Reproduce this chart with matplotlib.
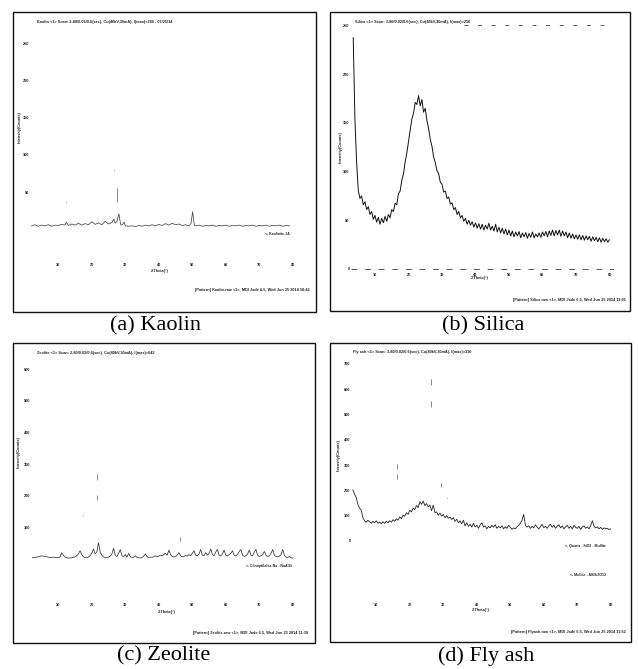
import numpy as np
import matplotlib
matplotlib.use("Agg")
import matplotlib.pyplot as plt
from matplotlib.patches import Rectangle

# ---------------- data (intensity in tick units) ----------------
captions = ["(a) Kaolin", "(b) Silica", "(c) Zeolite", "(d) Fly ash"]
two_theta_ticks = [10, 20, 30, 40, 50, 60, 70, 80]

kaolin_2theta = [2, 3, 4, 5, 6, 7, 8, 9, 10, 11, 12, 12.4, 13, 14, 15, 16, 17, 18, 19, 20,
                 21, 22, 23, 24, 25, 26, 26.6, 27, 27.5, 28.1, 28.6, 29, 29.7, 30, 31, 32,
                 33, 34, 35, 36, 37, 38, 39, 40, 41, 42, 43, 44, 45, 46, 47, 48, 49, 49.6,
                 50.1, 50.6, 51, 52, 53, 54, 55, 56, 57, 58, 59, 60, 61, 62, 63, 64, 65, 66,
                 67, 68, 69, 70, 71, 72, 73, 74, 75, 76, 77, 78, 79]
kaolin_counts = [0.10, 0.13, 0.09, 0.12, 0.10, 0.13, 0.09, 0.12, 0.11, 0.14, 0.12, 0.20, 0.11,
                 0.15, 0.12, 0.17, 0.12, 0.16, 0.13, 0.21, 0.14, 0.18, 0.13, 0.22, 0.15, 0.19,
                 0.28, 0.17, 0.22, 0.42, 0.14, 0.12, 0.20, 0.10, 0.09, 0.10, 0.08, 0.11, 0.09,
                 0.12, 0.10, 0.13, 0.10, 0.14, 0.11, 0.16, 0.12, 0.17, 0.13, 0.15, 0.11, 0.13,
                 0.10, 0.16, 0.48, 0.12, 0.10, 0.12, 0.09, 0.11, 0.10, 0.12, 0.09, 0.11, 0.10,
                 0.12, 0.09, 0.11, 0.10, 0.12, 0.09, 0.11, 0.10, 0.12, 0.09, 0.11, 0.10, 0.12,
                 0.09, 0.11, 0.10, 0.12, 0.09, 0.11, 0.10]
kaolin_faint_x = [27.4]
kaolin_faint_lo = [0.74]
kaolin_faint_hi = [1.11]
kaolin_dot_x = [26.6, 12.2]
kaolin_dot_y = [1.60, 0.75]

silica_2theta = np.arange(3.5, 80.01, 0.5)
silica_counts = [4.75, 3.10, 2.20, 1.62, 1.45, 1.50, 1.32, 1.38, 1.22, 1.28,
                 1.12, 1.18, 1.02, 1.10, 0.96, 1.06, 0.92, 1.04, 0.95, 1.08,
                 0.98, 1.12, 1.05, 1.22, 1.18, 1.35, 1.32, 1.55, 1.60, 1.82,
                 1.95, 2.20, 2.38, 2.62, 2.85, 3.08, 3.20, 3.42, 3.38, 3.56,
                 3.35, 3.48, 3.22, 3.30, 3.05, 2.88, 2.66, 2.52, 2.30, 2.18,
                 2.02, 1.96, 1.78, 1.74, 1.58, 1.60, 1.45, 1.48, 1.33, 1.36,
                 1.22, 1.26, 1.12, 1.18, 1.05, 1.10, 0.98, 1.04, 0.92, 1.00,
                 0.90, 0.97, 0.86, 0.95, 0.84, 0.93, 0.82, 0.92, 0.80, 0.90,
                 0.82, 0.94, 0.80, 0.88, 0.78, 0.92, 0.76, 0.86, 0.74, 0.84,
                 0.72, 0.82, 0.70, 0.80, 0.68, 0.78, 0.66, 0.76, 0.68, 0.77,
                 0.64, 0.74, 0.66, 0.75, 0.63, 0.73, 0.65, 0.76, 0.64, 0.72,
                 0.66, 0.74, 0.65, 0.76, 0.68, 0.77, 0.66, 0.78, 0.69, 0.80,
                 0.68, 0.79, 0.70, 0.80, 0.67, 0.78, 0.68, 0.76, 0.64, 0.74,
                 0.63, 0.72, 0.62, 0.70, 0.61, 0.70, 0.60, 0.69, 0.59, 0.68,
                 0.60, 0.67, 0.57, 0.66, 0.58, 0.65, 0.56, 0.64, 0.55, 0.63,
                 0.56, 0.62, 0.55, 0.60]

zeolite_2theta = np.arange(2.0, 80.01, 0.5)
zeolite_counts = [0.04, 0.05, 0.05, 0.06, 0.07, 0.08, 0.10, 0.09, 0.08, 0.07, 0.06, 0.05,
                  0.05, 0.06, 0.05, 0.04, 0.05, 0.06,
                  0.20, 0.12, 0.06, 0.04, 0.03, 0.03, 0.04, 0.05, 0.07, 0.10, 0.16, 0.26,
                  0.14, 0.07, 0.04, 0.04, 0.06, 0.10, 0.18, 0.32,
                  0.16, 0.22, 0.52, 0.22, 0.12, 0.07, 0.05, 0.05, 0.06, 0.09, 0.16, 0.34,
                  0.12, 0.08, 0.18, 0.30, 0.10, 0.08, 0.14, 0.06,
                  0.18, 0.07, 0.05, 0.06, 0.10, 0.05, 0.04, 0.03, 0.05, 0.09,
                  0.16, 0.07, 0.05, 0.06, 0.05, 0.08, 0.10, 0.07, 0.09, 0.12,
                  0.10, 0.14, 0.18, 0.12, 0.28, 0.14, 0.08, 0.06, 0.08, 0.12,
                  0.20, 0.10, 0.07, 0.08, 0.12, 0.09, 0.14, 0.10, 0.18, 0.26,
                  0.12, 0.10, 0.16, 0.30, 0.12, 0.10, 0.20, 0.12, 0.18, 0.32,
                  0.14, 0.10, 0.22, 0.30, 0.12, 0.10, 0.16, 0.28, 0.12, 0.10,
                  0.14, 0.18, 0.26, 0.12, 0.10, 0.14, 0.24, 0.30, 0.12, 0.08,
                  0.10, 0.16, 0.28, 0.12, 0.10, 0.22, 0.30, 0.12, 0.08, 0.10,
                  0.14, 0.24, 0.12, 0.08, 0.10, 0.18, 0.30, 0.12, 0.08, 0.07,
                  0.09, 0.14, 0.30, 0.12, 0.06, 0.05, 0.08, 0.04, 0.03]
zeolite_faint_x = [21.5, 21.5, 46.3]
zeolite_faint_lo = [2.50, 1.87, 0.58]
zeolite_faint_hi = [2.68, 2.02, 0.70]
zeolite_dot_x = [17.3]
zeolite_dot_y = [1.39]

flyash_2theta = np.arange(3.0, 80.01, 0.5)
flyash_counts = [2.02, 1.85, 1.72, 1.45, 1.30, 1.22, 0.92, 0.80, 0.74, 0.82,
                 0.76, 0.70, 0.78, 0.72, 0.80, 0.70, 0.75, 0.68, 0.76, 0.70,
                 0.78, 0.72, 0.80, 0.74, 0.84, 0.78, 0.88, 0.82, 0.95, 0.88,
                 1.02, 0.98, 1.12, 1.05, 1.22, 1.15, 1.30, 1.24, 1.40, 1.32,
                 1.55, 1.45, 1.58, 1.40, 1.48, 1.35, 1.42, 1.20, 1.42, 1.12,
                 1.15, 1.02, 1.10, 0.98, 1.05, 0.92, 1.00, 0.90, 0.95, 0.85,
                 0.92, 0.78, 0.86, 0.72, 0.80, 0.68, 0.82, 0.60, 0.72, 0.58,
                 0.66, 0.55, 0.70, 0.56, 0.62, 0.50, 0.64, 0.72, 0.55, 0.60,
                 0.48, 0.58, 0.52, 0.62, 0.55, 0.64, 0.50, 0.58, 0.52, 0.60,
                 0.48, 0.56, 0.50, 0.62, 0.54, 0.46, 0.52, 0.48, 0.56, 0.62,
                 0.70, 0.82, 1.05, 0.62, 0.55, 0.60, 0.50, 0.58, 0.52, 0.64,
                 0.55, 0.48, 0.56, 0.66, 0.52, 0.58, 0.50, 0.60, 0.66, 0.54,
                 0.62, 0.50, 0.58, 0.64, 0.52, 0.60, 0.48, 0.56, 0.62, 0.50,
                 0.58, 0.48, 0.62, 0.54, 0.50, 0.58, 0.46, 0.55, 0.60, 0.50,
                 0.56, 0.48, 0.62, 0.80, 0.58, 0.52, 0.56, 0.48, 0.54, 0.46,
                 0.52, 0.48, 0.50, 0.45, 0.48]
flyash_faint_x = [26.2, 26.2, 16.1, 16.1, 29.3]
flyash_faint_lo = [6.15, 5.30, 2.85, 2.45, 2.12]
flyash_faint_hi = [6.40, 5.55, 3.05, 2.65, 2.30]
flyash_dot_x = [31.0]
flyash_dot_y = [1.69]

kaolin_ytick_labels = ["50", "100", "150", "200", "250"]
silica_ytick_labels = ["0", "50", "100", "150", "200", "250"]
zeolite_ytick_labels = ["100", "200", "300", "400", "500", "600"]
flyash_ytick_labels = ["0", "100", "200", "300", "400", "500", "600", "700"]

headers = ["Kaolin <1> Scan: 2-80/0.02/0.6(sec), Cu(40kV,30mA), I(max)=286 - 06/25/14",
           "Silica <1> Scan: 3-80/0.02/0.6(sec), Cu(40kV,30mA), I(max)=256",
           "Zeolite <1> Scan: 2-80/0.02/0.6(sec), Cu(40kV,30mA), I(max)=642",
           "Fly ash <1> Scan: 3-80/0.02/0.6(sec), Cu(40kV,30mA), I(max)=330"]
footers = ["[Pattern] Kaolin.raw <1>, MDI Jade 6.5, Wed Jun 25 2014 10:42",
           "[Pattern] Silica.raw <1>, MDI Jade 6.5, Wed Jun 25 2014 11:05",
           "[Pattern] Zeolite.raw <1>, MDI Jade 6.5, Wed Jun 25 2014 11:30",
           "[Pattern] Flyash.raw <1>, MDI Jade 6.5, Wed Jun 25 2014 11:52"]

# ---------------- figure ----------------
W, H = 638, 669
fig = plt.figure(figsize=(W / 100, H / 100), dpi=100)
fig.patch.set_facecolor("white")

SERIF = ["Liberation Serif", "DejaVu Serif"]
SANS = ["Liberation Sans", "DejaVu Sans"]


def fx(px):
    return px / W


def fy(py):
    return 1 - py / H


def px_axes(l, t, r, b):
    return fig.add_axes([fx(l), fy(b), (r - l) / W, (b - t) / H])


def box(l, t, r, b):
    fig.add_artist(Rectangle((fx(l), fy(b)), (r - l) / W, (b - t) / H,
                             transform=fig.transFigure, fill=False,
                             lw=1.0, ec="#111111"))


def tiny(px, py, s, ha="left", rot=0, size=2.8, color="#222222"):
    fig.text(fx(px), fy(py), s, ha=ha, va="center", rotation=rot,
             fontsize=size, color=color, family=SANS, fontweight="bold")


panels = [
    dict(box=(13, 12, 316, 312), ax=(31, 20, 297, 262), x0=24.8, y0=229.6, ypx=37.3,
         x=kaolin_2theta, y=kaolin_counts, yt=kaolin_ytick_labels, yt_start=1,
         fx_=kaolin_faint_x, flo=kaolin_faint_lo, fhi=kaolin_faint_hi,
         dx=kaolin_dot_x, dy=kaolin_dot_y, lc="#444444", lw=0.55,
         head=(37, 22), foot=(310, 290), ylab=(20, 127), xlab=(160, 271),
         cap=(155, 326), plabels=[("<- Kaolinite-1A", 290, 234)]),
    dict(box=(330, 12, 630, 311), ax=(351, 22, 614, 272), x0=341.5, y0=269.0, ypx=48.7,
         x=silica_2theta, y=silica_counts, yt=silica_ytick_labels, yt_start=0,
         fx_=[], flo=[], fhi=[], dx=[], dy=[], lc="#111111", lw=0.7,
         head=(355, 22), foot=(626, 300), ylab=(341, 147), xlab=(480, 278),
         cap=(483, 326), plabels=[]),
    dict(box=(13, 343, 315, 643), ax=(32, 352, 297, 602), x0=24.8, y0=559.0, ypx=31.6,
         x=zeolite_2theta, y=zeolite_counts, yt=zeolite_ytick_labels, yt_start=1,
         fx_=zeolite_faint_x, flo=zeolite_faint_lo, fhi=zeolite_faint_hi,
         dx=zeolite_dot_x, dy=zeolite_dot_y, lc="#333333", lw=0.55,
         head=(37, 353), foot=(308, 633), ylab=(19, 452), xlab=(167, 612),
         cap=(164, 656), plabels=[("<- Clinoptilolite-Na - NaAlSi", 292, 566)]),
    dict(box=(330, 343, 631, 642), ax=(352, 352, 614, 602), x0=342.8, y0=541.0, ypx=25.3,
         x=flyash_2theta, y=flyash_counts, yt=flyash_ytick_labels, yt_start=0,
         fx_=flyash_faint_x, flo=flyash_faint_lo, fhi=flyash_faint_hi,
         dx=flyash_dot_x, dy=flyash_dot_y, lc="#222222", lw=0.6,
         head=(353, 352), foot=(626, 632), ylab=(339, 455), xlab=(481, 610),
         cap=(486, 656), plabels=[("<- Quartz - SiO2 - Mullite", 606, 546),
                                  ("<- Mullite - Al6Si2O13", 606, 575)]),
]

for i, p in enumerate(panels):
    box(*p["box"])
    l, t, r, b = p["ax"]
    ax = px_axes(l, t, r, b)
    ax.set_xlim((l - p["x0"]) / 3.35, (r - p["x0"]) / 3.35)
    ax.set_ylim((p["y0"] - b) / p["ypx"], (p["y0"] - t) / p["ypx"])
    for s in ax.spines.values():
        s.set_visible(False)
    ax.patch.set_alpha(0)

    ax.plot(p["x"], p["y"], color=p["lc"], lw=p["lw"])
    if p["fx_"]:
        ax.vlines(p["fx_"], p["flo"], p["fhi"], colors="#777777", lw=0.6)
    if p["dx"]:
        ax.scatter(p["dx"], p["dy"], s=0.6, color="#999999", lw=0)

    ax.set_xticks(two_theta_ticks)
    ax.set_xticklabels([str(v) for v in two_theta_ticks])
    ax.set_yticks(list(range(p["yt_start"], p["yt_start"] + len(p["yt"]))))
    ax.set_yticklabels(p["yt"])
    ax.tick_params(length=0, pad=1, labelsize=2.8, labelcolor="#222222")
    for lab in ax.get_xticklabels() + ax.get_yticklabels():
        lab.set_fontweight("bold")
        lab.set_family(SANS)

    if i == 1:
        ax.axhline(0, color="#555555", lw=0.7, dashes=(6, 8))
        ax.plot([36.5, 81], [5.0, 5.0], color="#555555", lw=0.7, dashes=(4, 10))

    tiny(p["head"][0], p["head"][1], headers[i])
    tiny(p["foot"][0], p["foot"][1], footers[i], ha="right")
    tiny(p["ylab"][0], p["ylab"][1], "Intensity(Counts)", ha="center", rot=90)
    tiny(p["xlab"][0], p["xlab"][1], "2-Theta(\u00b0)", ha="center")
    for txt, tx, ty in p["plabels"]:
        tiny(tx, ty, txt, ha="right", size=2.5)

    fig.text(fx(p["cap"][0]), fy(p["cap"][1]), captions[i], ha="center", va="center",
             fontsize=16, family=SERIF, color="black")

fig.savefig("out.png", dpi=100, facecolor="white")
